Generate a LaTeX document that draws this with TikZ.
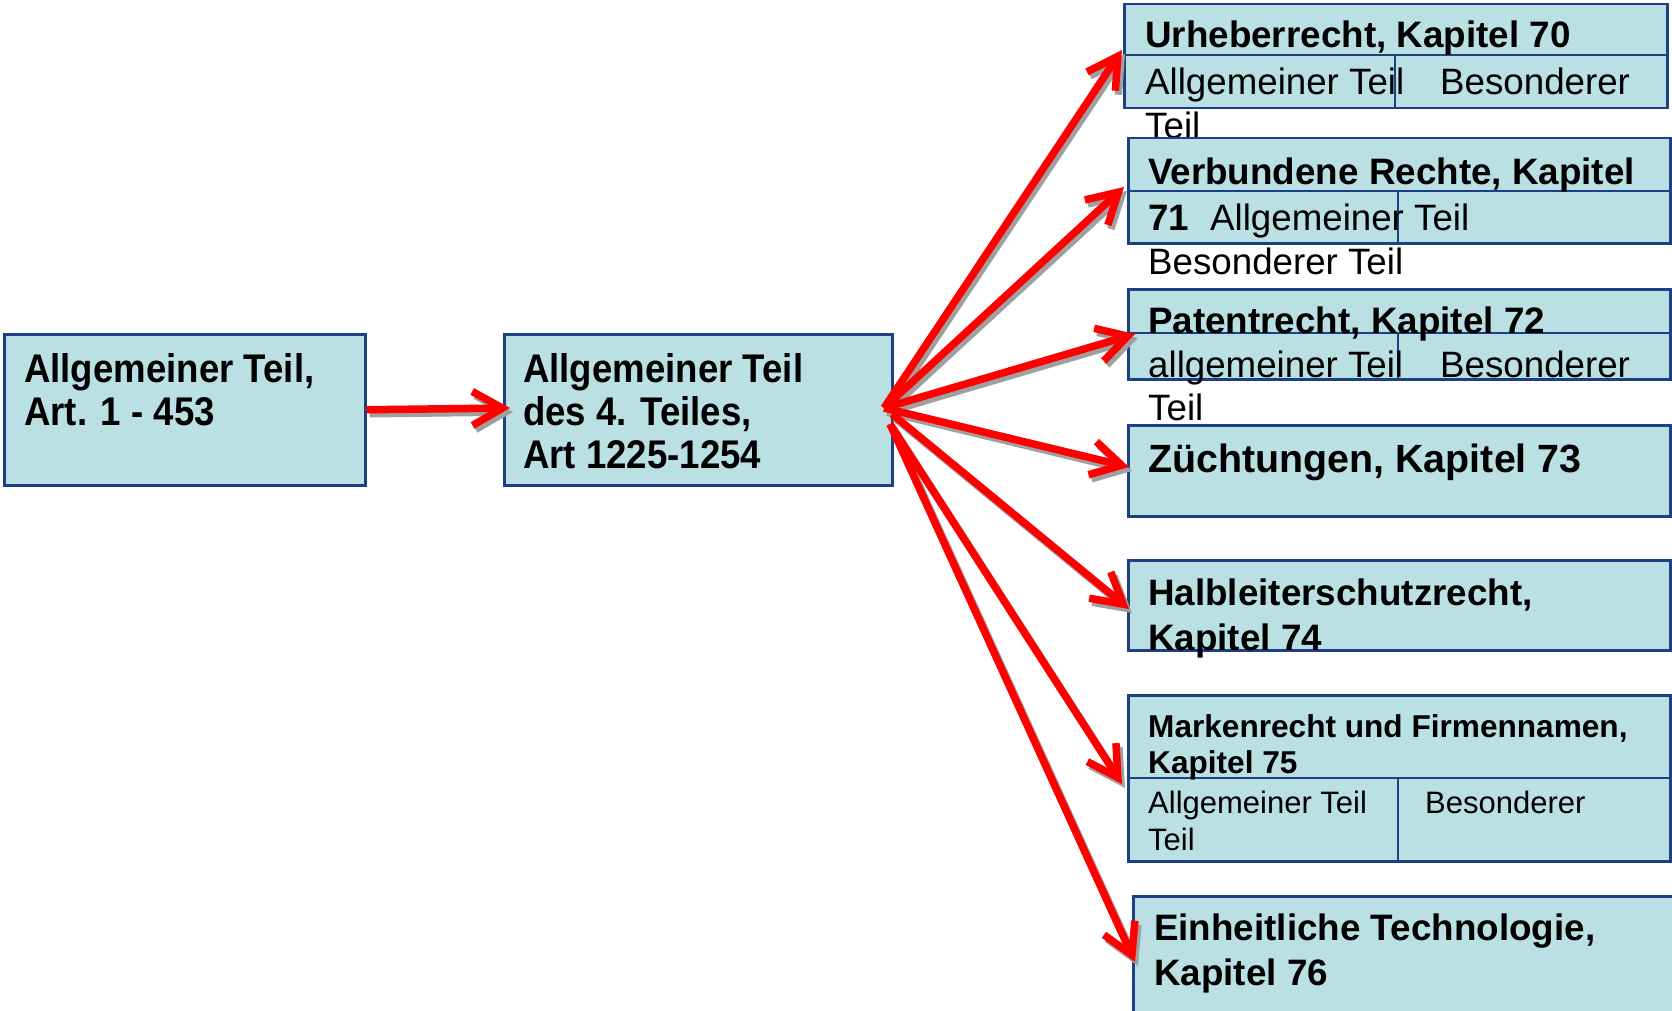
\documentclass[tikz,border=0pt]{standalone}
\usepackage{fontspec}
\setmainfont{Liberation Sans}
\newfontfamily\condfont{Liberation Sans}[FakeStretch=0.915]
\usetikzlibrary{arrows.meta}
\definecolor{boxfill}{RGB}{187,224,227}
\definecolor{boxline}{RGB}{28,64,130}
\definecolor{shadowgray}{RGB}{160,160,160}
\begin{document}
\begin{tikzpicture}[x=1pt,y=-1pt,
  box/.style={draw=boxline, line width=2.5pt, fill=boxfill, rectangle, inner sep=0pt, anchor=north west},
  div/.style={draw=boxline, line width=1.8pt},
  lbl/.style={anchor=base west, inner sep=0pt, font=\fontsize{36.8}{44}\selectfont\bfseries},
  reg/.style={anchor=base west, inner sep=0pt, font=\fontsize{36.7}{44}\selectfont},
  lft/.style={anchor=base west, inner sep=0pt, font=\fontsize{40}{44}\condfont\bfseries},
  arrbase/.style={line width=7.5pt, line join=round, -{Straight Barb[length=30pt,width=34pt]}},
  arr/.style={arrbase, draw=red},
  shad/.style={arrbase, draw=shadowgray},
]
\useasboundingbox (0,0) rectangle (1672,1011);

% left boxes
\node[box, minimum width=361pt, minimum height=151pt] (bA) at (3,333) {};
\node[lft] (tA1) at (24,382) {Allgemeiner Teil,};
\node[lft] (tA2) at (24,425) {Art. 1 - 453};

\node[box, minimum width=388pt, minimum height=151pt] (bB) at (503,333) {};
\node[lft] (tB1) at (523,382) {Allgemeiner Teil};
\node[lft] (tB2) at (523,425) {des 4. Teiles,};
\node[lft] (tB3) at (523,468) {Art 1225-1254};

% box 1
\node[box, minimum width=543pt, minimum height=104pt] (b1) at (1123,3) {};
\draw[div] (1123,55) -- (1666,55);
\draw[div] (1395,55) -- (1395,107);
\node[lbl] (t11) at (1145,48) {Urheberrecht, Kapitel 70};
\node[reg] (t12) at (1145,95) {Allgemeiner Teil};
\node[reg] (t13) at (1440,95) {Besonderer};
\node[reg] (t14) at (1145,139) {Teil};

% box 2
\node[box, minimum width=542pt, minimum height=105pt] (b2) at (1127,137) {};
\draw[div] (1127,191) -- (1669,191);
\draw[div] (1398,191) -- (1398,242);
\node[lbl] (t21) at (1148,185) {Verbundene Rechte, Kapitel};
\node[lbl] (t22) at (1148,230) {71};
\node[reg] (t23) at (1210,230) {Allgemeiner Teil};
\node[reg] (t24) at (1148,274) {Besonderer Teil};

% box 3
\node[box, minimum width=542pt, minimum height=90pt] (b3) at (1127,288) {};
\draw[div] (1127,333) -- (1669,333);
\draw[div] (1398,333) -- (1398,378);
\node[lbl] (t31) at (1148,333) {Patentrecht, Kapitel 72};
\node[reg] (t32) at (1148,377) {allgemeiner Teil};
\node[reg] (t33) at (1440,377) {Besonderer};
\node[reg] (t34) at (1148,420) {Teil};

% box 4
\node[box, minimum width=542pt, minimum height=91pt] (b4) at (1127,424) {};
\node[lbl, font=\fontsize{39.4}{46}\selectfont\bfseries] (t41) at (1148,472) {Züchtungen, Kapitel 73};

% box 5
\node[box, minimum width=542pt, minimum height=90pt] (b5) at (1127,559) {};
\node[lbl] (t51) at (1148,605) {Halbleiterschutzrecht,};
\node[lbl] (t52) at (1148,650) {Kapitel 74};

% box 6
\node[box, minimum width=542pt, minimum height=166pt] (b6) at (1127,694) {};
\draw[div] (1127,778) -- (1669,778);
\draw[div] (1398,778) -- (1398,860);
\node[lbl, font=\fontsize{31.6}{36}\selectfont\bfseries] (t61) at (1148,737) {Markenrecht und Firmennamen,};
\node[lbl, font=\fontsize{31.6}{36}\selectfont\bfseries] (t62) at (1148,773) {Kapitel 75};
\node[reg, font=\fontsize{31}{37}\selectfont] (t63) at (1148,813) {Allgemeiner Teil};
\node[reg, font=\fontsize{31}{37}\selectfont] (t64) at (1148,850) {Teil};
\node[reg, font=\fontsize{31}{37}\selectfont] (t65) at (1425,813) {Besonderer};

% box 7
\node[box, minimum width=545pt, minimum height=116pt] (b7) at (1132,895) {};
\node[lbl] (t71) at (1154,940) {Einheitliche Technologie,};
\node[lbl] (t72) at (1154,985) {Kapitel 76};

% arrow end points
\coordinate (tAB) at (510,408);
\coordinate (fo) at (884,408);
\coordinate (fm) at (892,414);
\coordinate (fl) at (890,424);
\coordinate (e1) at (1122,50);
\coordinate (e2) at (1124,187);
\coordinate (e3) at (1135,334);
\coordinate (e4) at (1129,467);
\coordinate (e5) at (1129,609);
\coordinate (e6) at (1122,784);
\coordinate (e7) at (1135,962);

% shadows
\draw[shad] ([shift={(3,4)}]bA.east) -- ([shift={(3,4)}]tAB);
\draw[shad] ([shift={(3,4)}]fo) -- ([shift={(3,4)}]e1);
\draw[shad] ([shift={(3,4)}]fo) -- ([shift={(3,4)}]e2);
\draw[shad] ([shift={(3,4)}]fo) -- ([shift={(3,4)}]e3);
\draw[shad] ([shift={(3,4)}]fo) -- ([shift={(3,4)}]e4);
\draw[shad] ([shift={(3,4)}]fm) -- ([shift={(3,4)}]e5);
\draw[shad] ([shift={(3,4)}]fl) -- ([shift={(3,4)}]e6);
\draw[shad] ([shift={(3,4)}]fl) -- ([shift={(3,4)}]e7);

% arrows
\draw[arr] (bA.east) -- (tAB);
\draw[arr] (fo) -- (e1);
\draw[arr] (fo) -- (e2);
\draw[arr] (fo) -- (e3);
\draw[arr] (fo) -- (e4);
\draw[arr] (fm) -- (e5);
\draw[arr] (fl) -- (e6);
\draw[arr] (fl) -- (e7);
\end{tikzpicture}
\end{document}
